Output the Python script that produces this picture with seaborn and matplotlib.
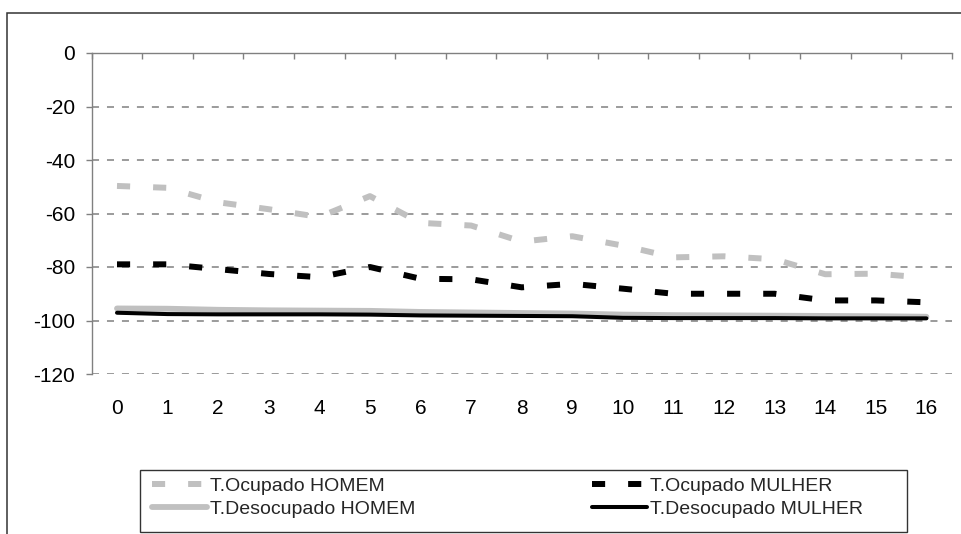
import matplotlib
matplotlib.use("Agg")
import matplotlib.pyplot as plt
import seaborn as sns
import pandas as pd
from matplotlib.patches import Rectangle

# dados
periodos = list(range(17))
ocupado_homem = [-49.7, -50.4, -55.8, -58.4, -61.3, -53.5, -63.5, -64.5, -70.5,
                 -68.5, -72.0, -76.4, -76.0, -77.1, -82.7, -82.5, -84.0]
ocupado_mulher = [-79.0, -79.0, -80.8, -82.6, -83.8, -80.0, -84.4, -84.6, -87.6,
                  -86.3, -88.1, -90.0, -90.0, -90.0, -92.5, -92.5, -93.2]
desocupado_homem = [-95.5, -95.6, -96.0, -96.2, -96.3, -96.4, -96.8, -97.0, -97.2,
                    -97.4, -97.8, -98.0, -98.1, -98.2, -98.3, -98.4, -98.6]
desocupado_mulher = [-97.1, -97.6, -97.7, -97.7, -97.7, -97.8, -98.1, -98.2, -98.3,
                     -98.4, -99.0, -99.1, -99.1, -99.1, -99.2, -99.2, -99.2]
y_ticks = [0, -20, -40, -60, -80, -100, -120]

sns.set_theme(style="white")
plt.rcParams["font.family"] = ["Liberation Sans", "DejaVu Sans"]

W, H = 962, 534
fig = plt.figure(figsize=(W / 100, H / 100), dpi=100)
ax = fig.add_axes([91.7 / W, 1 - 374 / H, 860 / W, 321 / H])

# moldura externa do grafico
fig.patches.append(Rectangle((7.5 / W, -0.5), 2, 1.5 - 13 / H, transform=fig.transFigure,
                             fill=False, edgecolor="#333333", linewidth=1.1))

cinza = "#c0c0c0"
sns.lineplot(x=periodos, y=ocupado_homem, ax=ax, color=cinza, linewidth=4.3,
             linestyle=(0, (2.2, 3.85)), label="T.Ocupado HOMEM", legend=False)
sns.lineplot(x=periodos, y=ocupado_mulher, ax=ax, color="black", linewidth=4.3,
             linestyle=(0, (2.2, 3.85)), label="T.Ocupado MULHER", legend=False)
sns.lineplot(x=periodos, y=desocupado_homem, ax=ax, color=cinza, linewidth=4.2,
             solid_capstyle="round", label="T.Desocupado HOMEM", legend=False)
sns.lineplot(x=periodos, y=desocupado_mulher, ax=ax, color="black", linewidth=2.9,
             solid_capstyle="round", label="T.Desocupado MULHER", legend=False)

ax.set_xlim(-0.5, 16.5)
ax.set_ylim(-120, 0)
ax.set_yticks(y_ticks)
ax.set_yticklabels([str(v) for v in y_ticks], fontsize=15)
ax.set_xticks(periodos)
ax.set_xticklabels([str(p) for p in periodos], fontsize=15)
ax.set_xticks([p - 0.5 for p in periodos] + [16.5], minor=True)
ax.set_xlabel("")
ax.set_ylabel("")

ax.yaxis.grid(True, color="#808080", linewidth=1.1, linestyle=(0, (4.6, 5.2)))
ax.xaxis.grid(False)
ax.set_axisbelow(True)

for lado in ["right", "bottom"]:
    ax.spines[lado].set_visible(False)
for lado in ["left", "top"]:
    ax.spines[lado].set_visible(True)
    ax.spines[lado].set_color("#808080")
    ax.spines[lado].set_linewidth(1.0)

ax.tick_params(axis="y", left=True, direction="out", length=4, width=1,
               color="#808080", pad=8, labelcolor="black")
ax.tick_params(axis="x", which="major", bottom=False, top=False, length=0,
               pad=18, labelcolor="black")
ax.tick_params(axis="x", which="minor", bottom=False, top=True, direction="in",
               length=4, width=1, color="#808080")

# legenda: caixa unica com duas colunas
fig.patches.append(Rectangle((140 / W, 1 - 532 / H), 767 / W, 62 / H,
                             transform=fig.transFigure, fill=False,
                             edgecolor="#333333", linewidth=1.0))
handles, labels = ax.get_legend_handles_labels()
colunas = [([0, 2], 152), ([1, 3], 592)]
for idx, x0 in colunas:
    fig.legend([handles[i] for i in idx], [labels[i] for i in idx], ncol=1,
               loc="upper left", bbox_to_anchor=(x0 / W, 1 - 477 / H),
               frameon=False, fontsize=14, handlelength=2.85,
               handletextpad=0.15, borderpad=0, labelspacing=0.3,
               borderaxespad=0)

fig.savefig("out.png", dpi=100)
